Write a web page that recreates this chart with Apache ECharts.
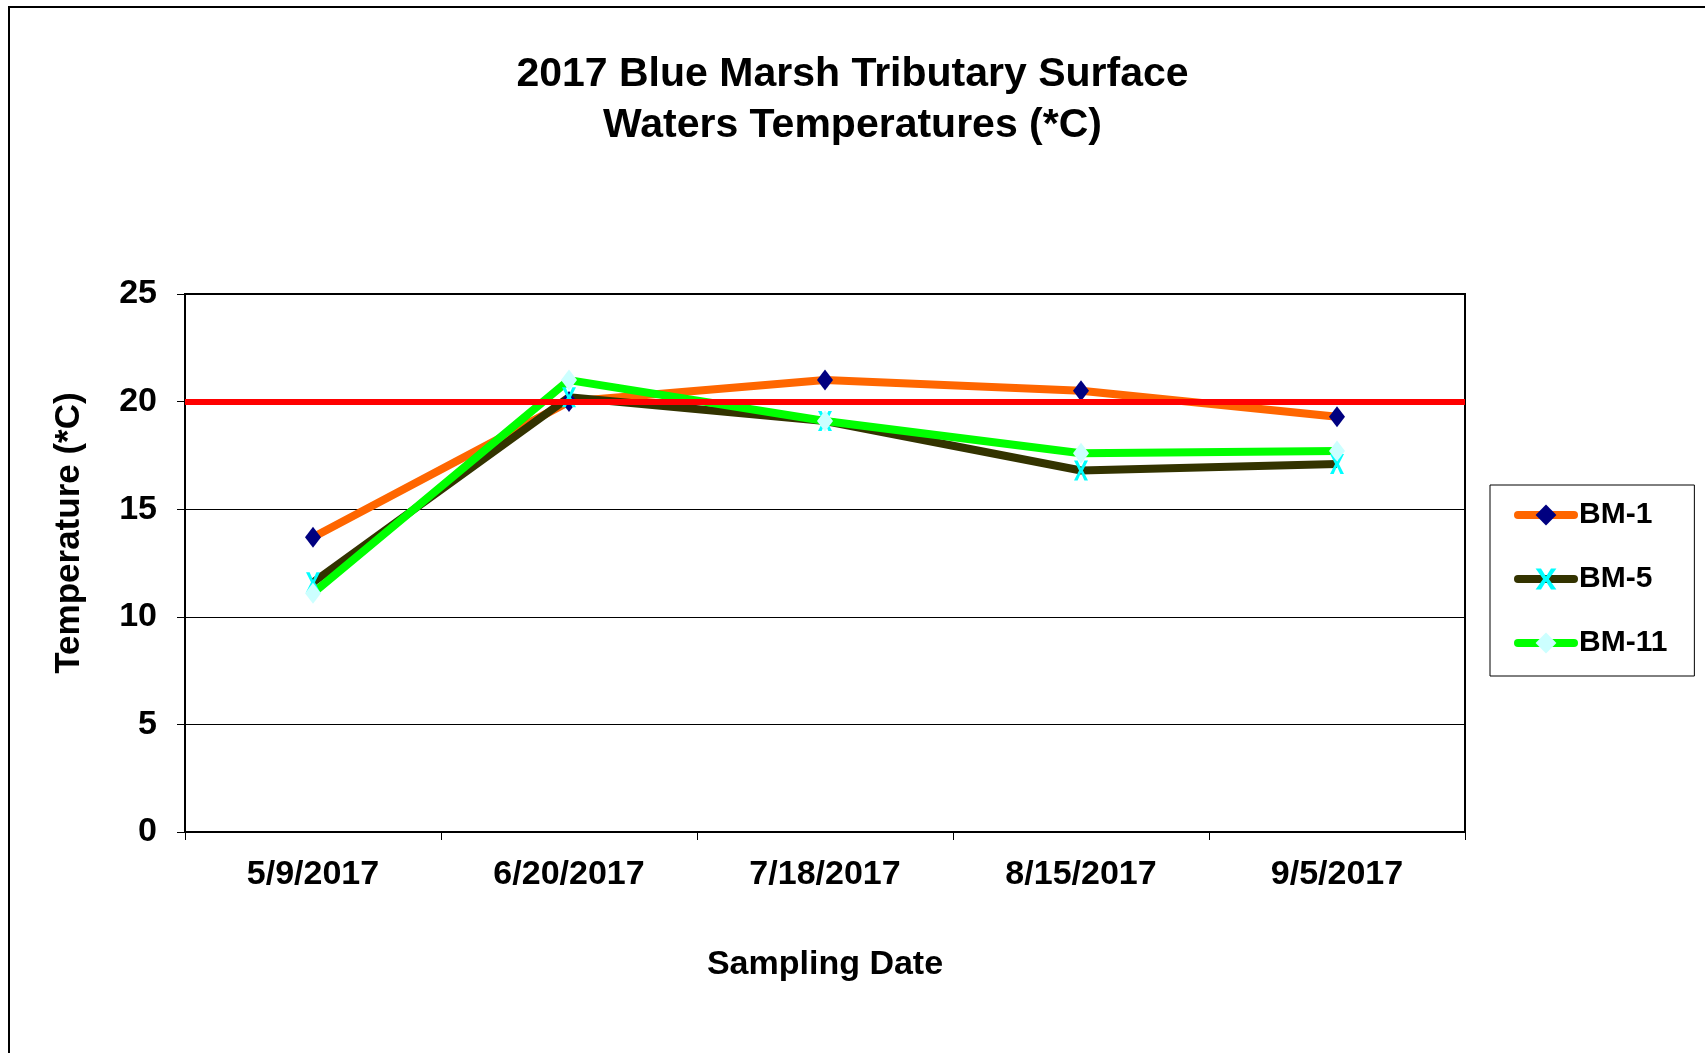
<!DOCTYPE html>
<html>
<head>
<meta charset="utf-8">
<script src="https://cdn.jsdelivr.net/npm/echarts@6/dist/echarts.min.js"></script>
</head>
<body style="margin:0;background:#fff;">
<div id="main" style="width:1705px;height:1053px;"></div>
<script type="text/javascript">
    // data
    var dates = ['5/9/2017', '6/20/2017', '7/18/2017', '8/15/2017', '9/5/2017'];
    var bm1 = [13.7, 20.0, 21.0, 20.5, 19.3];
    var bm5 = [11.6, 20.2, 19.1, 16.8, 17.1];
    var bm11 = [11.1, 21.0, 19.1, 17.6, 17.7];
    var limit = 20;
    var yTicks = [0, 5, 10, 15, 20, 25];

    var font = 'Liberation Sans, Arial, sans-serif';
    var xMark = 'path://M0,0L2.6,0L5,3.8L7.4,0L10,0L6.4,5L10,10L7.4,10L5,6.2L2.6,10L0,10L3.6,5Z';

    var myChart = echarts.init(document.getElementById('main'));
    var option = {
        backgroundColor: '#fff',
        animation: false,
        title: {
            text: '2017 Blue Marsh Tributary Surface\nWaters Temperatures (*C)',
            left: 'center',
            top: 44,
            textStyle: {fontFamily: font, fontSize: 41, fontWeight: 'bold', color: '#000', lineHeight: 51}
        },
        graphic: [{
            type: 'rect',
            shape: {x: 9, y: 7, width: 1720, height: 1070},
            style: {fill: 'none', stroke: '#000', lineWidth: 2},
            silent: true
        }],
        legend: {
            orient: 'vertical',
            left: 1490,
            top: 485,
            data: ['BM-1', 'BM-5', 'BM-11'],
            itemWidth: 56,
            itemHeight: 26,
            itemGap: 34,
            padding: [15, 27, 18, 24],
            borderColor: '#000',
            borderWidth: 1,
            lineStyle: {width: 8, cap: 'round'},
            textStyle: {fontFamily: font, fontSize: 30, fontWeight: 'bold', color: '#000', lineHeight: 30}
        },
        grid: {
            left: 185,
            right: 1705 - 1465,
            top: 294,
            bottom: 1053 - 832,
            show: true,
            borderColor: '#000',
            borderWidth: 2,
            backgroundColor: '#fff'
        },
        xAxis: {
            type: 'category',
            data: dates,
            boundaryGap: true,
            name: 'Sampling Date',
            nameLocation: 'middle',
            nameGap: 116,
            nameTextStyle: {fontFamily: font, fontSize: 34, fontWeight: 'bold', color: '#000'},
            axisLine: {lineStyle: {color: '#000', width: 2}},
            axisTick: {show: true, length: 8, lineStyle: {color: '#000', width: 1}},
            axisLabel: {fontFamily: font, fontSize: 34, fontWeight: 'bold', color: '#000', margin: 26}
        },
        yAxis: {
            type: 'value',
            min: yTicks[0],
            max: yTicks[yTicks.length - 1],
            interval: 5,
            name: 'Temperature (*C)',
            nameLocation: 'middle',
            nameGap: 98,
            nameTextStyle: {fontFamily: font, fontSize: 35, fontWeight: 'bold', color: '#000', padding: [0, 0, 0, 60]},
            axisLine: {show: true, lineStyle: {color: '#000', width: 2}},
            axisTick: {show: true, length: 8, lineStyle: {color: '#000', width: 1}},
            axisLabel: {fontFamily: font, fontSize: 34, fontWeight: 'bold', color: '#000', margin: 28},
            splitLine: {show: true, lineStyle: {color: '#000', width: 1}}
        },
        series: [
            {
                name: 'BM-1',
                type: 'line',
                data: bm1,
                symbol: 'diamond',
                symbolSize: [16, 21],
                lineStyle: {color: '#FF6600', width: 8},
                itemStyle: {color: '#000080'}
            },
            {
                name: 'BM-5',
                type: 'line',
                data: bm5,
                symbol: xMark,
                symbolSize: [14, 20],
                lineStyle: {color: '#333300', width: 8},
                itemStyle: {color: '#00FFFF'}
            },
            {
                name: 'BM-11',
                type: 'line',
                data: bm11,
                symbol: 'diamond',
                symbolSize: [16, 21],
                lineStyle: {color: '#00FF00', width: 8},
                itemStyle: {color: '#CCFFFF'}
            },
            {
                name: 'limit',
                type: 'line',
                data: [],
                markLine: {
                    silent: true,
                    symbol: ['none', 'none'],
                    label: {show: false},
                    lineStyle: {color: '#FF0000', width: 6, type: 'solid'},
                    data: [{yAxis: limit}]
                }
            }
        ]
    };
    myChart.setOption(option);
</script>
</body>
</html>
